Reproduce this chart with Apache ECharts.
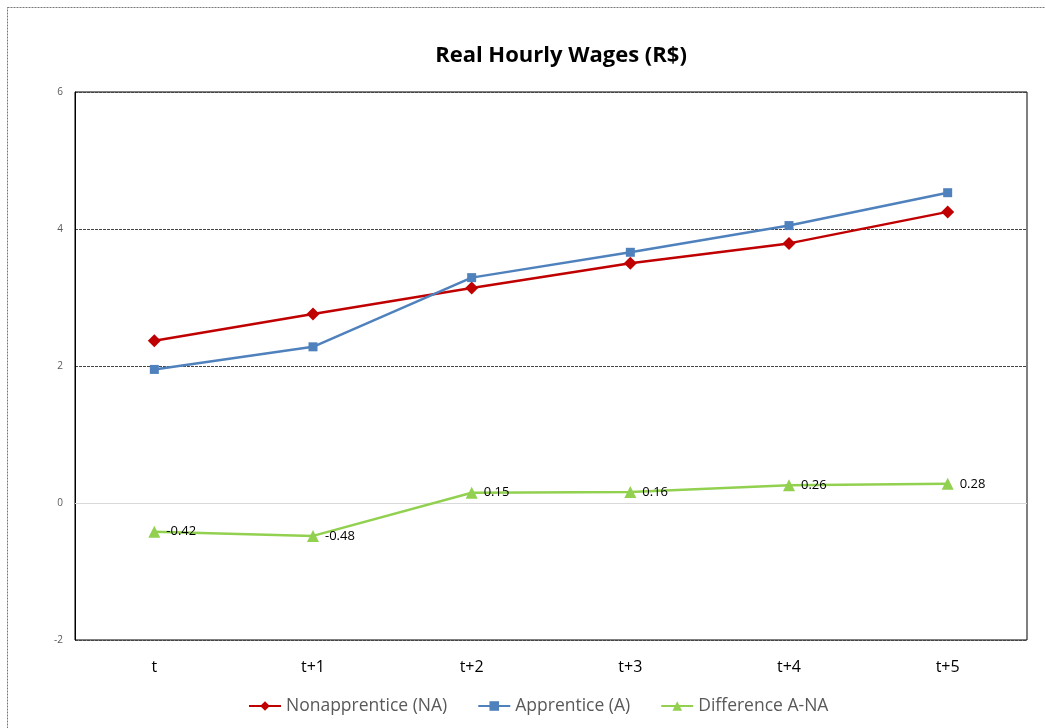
<!DOCTYPE html>
<html>
<head>
<meta charset="utf-8">
<script src="https://cdn.jsdelivr.net/npm/echarts@6/dist/echarts.min.js"></script>
<style>
  html, body { margin: 0; padding: 0; background: #fff; }
  #chart { width: 1045px; height: 728px; }
</style>
</head>
<body>
<div id="chart"></div>
<script>
var periods = ['t', 't+1', 't+2', 't+3', 't+4', 't+5'];
var nonApprentice = [2.37, 2.76, 3.14, 3.50, 3.79, 4.25];
var apprentice = [1.95, 2.28, 3.29, 3.66, 4.05, 4.53];
var difference = [-0.42, -0.48, 0.15, 0.16, 0.26, 0.28];
var yTicks = [-2, 0, 2, 4, 6];

var chart = echarts.init(document.getElementById('chart'));

var option = {
    backgroundColor: '#fff',
    animation: false,
    textStyle: { fontFamily: 'Open Sans' },
    title: {
        text: 'Real Hourly Wages (R$)',
        left: 556,
        top: 40,
        textAlign: 'center',
        textStyle: { fontSize: 22, fontWeight: 'bold', color: '#000', fontFamily: 'Open Sans' }
    },
    graphic: [{
        type: 'rect',
        shape: { x: 7.5, y: 7.5, width: 1050, height: 740 },
        style: { fill: 'none', stroke: '#777', lineWidth: 1, lineDash: [2, 1] },
        silent: true
    }],
    legend: {
        bottom: 8,
        left: 243,
        itemWidth: 32,
        itemHeight: 12,
        itemGap: 30,
        textStyle: { fontSize: 17.5, color: '#595959', fontFamily: 'Open Sans' },
        data: ['Nonapprentice (NA)', 'Apprentice (A)', 'Difference A-NA']
    },
    grid: {
        left: 75, right: 18, top: 92, bottom: 88,
        show: true, borderColor: '#000', borderWidth: 1,
        containLabel: false
    },
    xAxis: {
        type: 'category',
        data: periods,
        boundaryGap: true,
        axisLine: { show: false },
        axisTick: { show: false },
        axisLabel: { fontSize: 16, color: '#000', margin: 19, fontFamily: 'Open Sans' }
    },
    yAxis: {
        type: 'value',
        min: yTicks[0],
        max: yTicks[yTicks.length - 1],
        interval: 2,
        axisLine: { show: true, lineStyle: { color: '#000', width: 1 } },
        axisTick: { show: false },
        axisLabel: { fontSize: 10, color: '#595959', margin: 12, fontFamily: 'Open Sans' },
        splitLine: {
            show: true,
            lineStyle: { type: [3, 1], color: ['#444', 'rgba(0,0,0,0)', '#444', '#444', '#444'] }
        }
    },
    series: [
        {
            name: 'Nonapprentice (NA)',
            type: 'line',
            data: nonApprentice,
            symbol: 'diamond',
            symbolSize: 13,
            lineStyle: { color: '#c00000', width: 2.5 },
            itemStyle: { color: '#c00000' }
        },
        {
            name: 'Apprentice (A)',
            type: 'line',
            data: apprentice,
            symbol: 'rect',
            symbolSize: 9,
            lineStyle: { color: '#4f81bd', width: 2.5 },
            itemStyle: { color: '#4f81bd' }
        },
        {
            name: 'Difference A-NA',
            type: 'line',
            data: difference,
            symbol: 'triangle',
            symbolSize: 12,
            lineStyle: { color: '#92d050', width: 2.5 },
            itemStyle: { color: '#92d050' },
            label: {
                show: true,
                position: 'right',
                distance: 6,
                fontSize: 13,
                color: '#000',
                fontFamily: 'Open Sans',
                formatter: function (p) { return p.value.toFixed(2); }
            },
            markLine: {
                silent: true,
                symbol: 'none',
                label: { show: false },
                lineStyle: { color: '#d9d9d9', type: 'solid', width: 1 },
                data: [{ yAxis: 0 }],
                z: 1
            }
        }
    ]
};

chart.setOption(option);
</script>
</body>
</html>
